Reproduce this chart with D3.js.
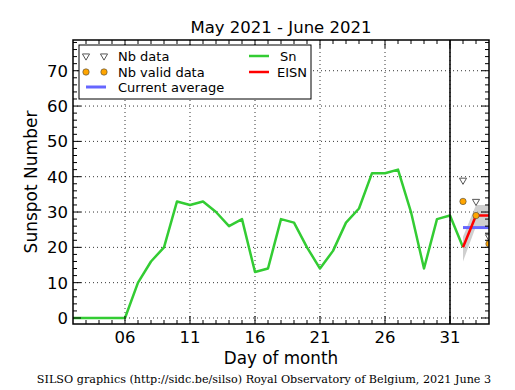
<!DOCTYPE html>
<html>
<head>
<meta charset="utf-8">
<script src="https://cdn.jsdelivr.net/npm/d3@7"></script>
<style>
  body { margin: 0; background: #fff; }
  svg { display: block; }
  text { font-family: "DejaVu Sans", sans-serif; fill: #000; }
</style>
</head>
<body>
<div id="chart-container"></div>
<script>
// Daily sunspot number (Sn), provisional EISN and related data
const snDays = [1,2,3,4,5,6,7,8,9,10,11,12,13,14,15,16,17,18,19,20,21,22,23,24,25,26,27,28,29,30,31,32];
const snValues = [0,0,0,0,0,0,10,16,20,33,32,33,30,26,28,13,14,28,27,20,14,19,27,31,41,41,42,30,14,28,29,20];
const eisnDays = [32,33,34];
const eisnValues = [20,29,29];
const bandLow = [16,26,26];
const bandHigh = [23,32,32];
const nbDataDays = [32,33,34];
const nbDataValues = [39,33,23];
const nbValidDays = [32,33,34];
const nbValidValues = [33,29,21];
const avgDays = [32,34];
const avgValue = 25.6;
const xTicks = [6,11,16,21,26,31];
const yTicks = [0,10,20,30,40,50,60,70];

const W = 515, H = 390;
const margin = { top: 40, right: 26, bottom: 66, left: 73 };
const width = W - margin.left - margin.right;
const height = H - margin.top - margin.bottom;

const root = d3.select("#chart-container").append("svg")
    .attr("width", W).attr("height", H);

const svg = root.append("g")
    .attr("transform", "translate(" + margin.left + "," + margin.top + ")");

const x = d3.scaleLinear().domain([2, 34]).range([0, width]);
const y = d3.scaleLinear().domain([-1.7, 78.7]).range([height, 0]);

svg.append("clipPath").attr("id", "clip")
    .append("rect").attr("width", width).attr("height", height);

// grid
svg.selectAll(".vgrid").data(xTicks).enter().append("line")
    .attr("x1", d => x(d)).attr("x2", d => x(d))
    .attr("y1", 0).attr("y2", height)
    .attr("stroke", "#000").attr("stroke-width", 0.8).attr("stroke-dasharray", "1,3");
svg.selectAll(".hgrid").data(yTicks).enter().append("line")
    .attr("x1", 0).attr("x2", width)
    .attr("y1", d => y(d)).attr("y2", d => y(d))
    .attr("stroke", "#000").attr("stroke-width", 0.8).attr("stroke-dasharray", "1,3");

const plot = svg.append("g").attr("clip-path", "url(#clip)");

// uncertainty band
const band = eisnDays.map((d, i) => ({ d: d, lo: bandLow[i], hi: bandHigh[i] }));
plot.append("path").datum(band)
    .attr("fill", "#bbbbbb").attr("opacity", 0.7)
    .attr("d", d3.area().x(d => x(d.d)).y0(d => y(d.lo)).y1(d => y(d.hi)));

// current average
plot.append("line")
    .attr("x1", x(avgDays[0])).attr("x2", x(avgDays[1]))
    .attr("y1", y(avgValue)).attr("y2", y(avgValue))
    .attr("stroke", "#6666ff").attr("stroke-width", 3);

// Sn line
plot.append("path").datum(snDays.map((d, i) => [d, snValues[i]]))
    .attr("fill", "none").attr("stroke", "#33cc33").attr("stroke-width", 2.5)
    .attr("stroke-linejoin", "round")
    .attr("d", d3.line().x(d => x(d[0])).y(d => y(d[1])));

// EISN line
plot.append("path").datum(eisnDays.map((d, i) => [d, eisnValues[i]]))
    .attr("fill", "none").attr("stroke", "#ff0000").attr("stroke-width", 2.5)
    .attr("d", d3.line().x(d => x(d[0])).y(d => y(d[1])));

// markers
const tri = d3.symbol().type(d3.symbolTriangle).size(22);
plot.selectAll(".nbdata").data(nbDataDays).enter().append("path")
    .attr("d", tri)
    .attr("transform", (d, i) => "translate(" + x(d) + "," + y(nbDataValues[i]) + ") rotate(180)")
    .attr("fill", "#fff").attr("stroke", "#555").attr("stroke-width", 1);
plot.selectAll(".nbvalid").data(nbValidDays).enter().append("circle")
    .attr("cx", d => x(d)).attr("cy", (d, i) => y(nbValidValues[i]))
    .attr("r", 3.2).attr("fill", "#ffa500").attr("stroke", "#444").attr("stroke-width", 0.6);

// vertical month separator
svg.append("line")
    .attr("x1", x(31)).attr("x2", x(31)).attr("y1", 0).attr("y2", height)
    .attr("stroke", "#000").attr("stroke-width", 1.5);

// ticks (inward, mirrored)
const xMinor = d3.range(3, 34);
const yMinor = d3.range(0, 79, 2);
const ticks = svg.append("g").attr("stroke", "#000").attr("stroke-width", 1);
xMinor.forEach(d => {
    const len = xTicks.includes(d) ? 8 : 4;
    ticks.append("line").attr("x1", x(d)).attr("x2", x(d)).attr("y1", height).attr("y2", height - len);
    ticks.append("line").attr("x1", x(d)).attr("x2", x(d)).attr("y1", 0).attr("y2", len);
});
yMinor.forEach(d => {
    const len = yTicks.includes(d) ? 8 : 4;
    ticks.append("line").attr("x1", 0).attr("x2", len).attr("y1", y(d)).attr("y2", y(d));
    ticks.append("line").attr("x1", width).attr("x2", width - len).attr("y1", y(d)).attr("y2", y(d));
});

// frame
svg.append("rect").attr("width", width).attr("height", height)
    .attr("fill", "none").attr("stroke", "#000").attr("stroke-width", 1.5);

// tick labels
svg.selectAll(".xl").data(xTicks).enter().append("text")
    .attr("x", d => x(d)).attr("y", height + 19)
    .attr("text-anchor", "middle").style("font-size", "16.5px")
    .text(d => d3.format("02d")(d));
svg.selectAll(".yl").data(yTicks).enter().append("text")
    .attr("x", -5).attr("y", d => y(d)).attr("dy", "0.36em")
    .attr("text-anchor", "end").style("font-size", "16.5px")
    .text(d => d);

// titles
root.append("text").attr("x", margin.left + width / 2).attr("y", 33)
    .attr("text-anchor", "middle").style("font-size", "16.5px")
    .text("May 2021 - June 2021");
root.append("text").attr("x", margin.left + width / 2).attr("y", 364)
    .attr("text-anchor", "middle").style("font-size", "16.8px")
    .text("Day of month");
root.append("text")
    .attr("transform", "translate(37," + (margin.top + height / 2) + ") rotate(-90)")
    .attr("text-anchor", "middle").style("font-size", "17px")
    .text("Sunspot Number");
root.append("text").attr("x", 264).attr("y", 383)
    .attr("text-anchor", "middle")
    .style("font-family", "'DejaVu Serif', serif").style("font-size", "11.2px")
    .text("SILSO graphics (http://sidc.be/silso) Royal Observatory of Belgium, 2021 June 3");

// legend
const lg = root.append("g").attr("transform", "translate(79,45)");
lg.append("rect").attr("width", 232).attr("height", 54)
    .attr("fill", "#fff").attr("stroke", "#000").attr("stroke-width", 1);
[7, 25].forEach(px => {
    lg.append("path").attr("d", tri)
        .attr("transform", "translate(" + px + ",11) rotate(180)")
        .attr("fill", "#fff").attr("stroke", "#555");
    lg.append("circle").attr("cx", px).attr("cy", 27).attr("r", 3.2)
        .attr("fill", "#ffa500").attr("stroke", "#444").attr("stroke-width", 0.6);
});
lg.append("line").attr("x1", 7).attr("x2", 27).attr("y1", 42).attr("y2", 42)
    .attr("stroke", "#6666ff").attr("stroke-width", 3);
lg.append("line").attr("x1", 170).attr("x2", 190).attr("y1", 11).attr("y2", 11)
    .attr("stroke", "#33cc33").attr("stroke-width", 2.5);
lg.append("line").attr("x1", 170).attr("x2", 190).attr("y1", 27).attr("y2", 27)
    .attr("stroke", "#ff0000").attr("stroke-width", 2.5);
const legendText = [["Nb data", 39, 11], ["Nb valid data", 39, 27], ["Current average", 39, 42],
                    ["Sn", 201, 11], ["EISN", 198, 27]];
legendText.forEach(t => {
    lg.append("text").attr("x", t[1]).attr("y", t[2]).attr("dy", "0.36em")
        .style("font-size", "13px").text(t[0]);
});
</script>
</body>
</html>
